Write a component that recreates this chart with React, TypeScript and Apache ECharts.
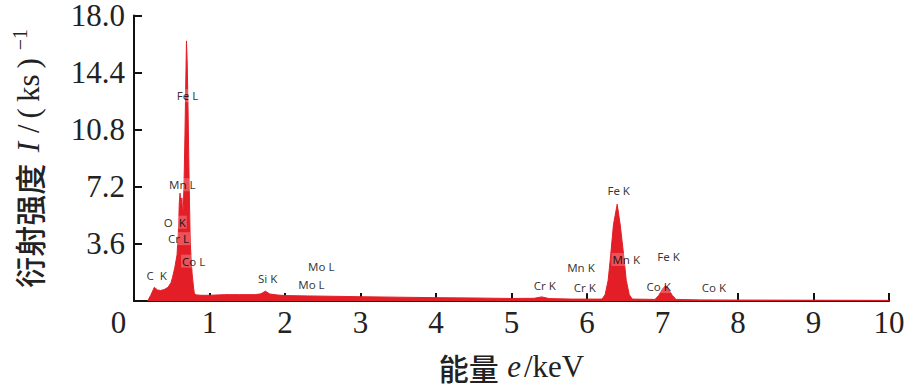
import React, { useEffect, useRef } from "react";
import * as echarts from "echarts";

// X-ray energy (keV) and intensity (counts per ks) of the spectrum
const energyKeV = [
  0.18, 0.22, 0.27, 0.31, 0.35, 0.4, 0.45, 0.49, 0.51, 0.54, 0.57, 0.59, 0.6, 0.61, 0.62, 0.625, 0.635, 0.645,
  0.655, 0.665, 0.675, 0.685, 0.695, 0.705, 0.715, 0.725, 0.735, 0.745, 0.76, 0.77, 0.79, 0.8, 0.83, 0.9, 1.0,
  1.2, 1.4, 1.6, 1.68, 1.74, 1.8, 1.9, 2.0, 2.3, 2.6, 3.0, 3.5, 4.0, 4.5, 5.0, 5.3, 5.4, 5.5, 5.8, 6.1, 6.2,
  6.24, 6.28, 6.31, 6.35, 6.4, 6.44, 6.49, 6.52, 6.56, 6.6, 6.9, 6.95, 7.0, 7.04, 7.08, 7.13, 7.18, 7.5, 8.0,
  9.0, 10.0,
];
const intensity = [
  0, 0.35, 0.86, 0.7, 0.66, 0.72, 0.86, 1.15, 1.48, 2.1, 2.9, 4.6, 6.2, 6.8, 6.1, 6.2, 6.5, 5.4,
  6.0, 8.0, 10.5, 13.5, 16.4, 15.0, 12.4, 9.1, 6.2, 3.7, 2.4, 1.7, 0.8, 0.45, 0.38, 0.36, 0.36,
  0.4, 0.4, 0.4, 0.45, 0.62, 0.44, 0.38, 0.34, 0.32, 0.3, 0.27, 0.24, 0.21, 0.19, 0.16, 0.17, 0.26, 0.15, 0.12, 0.12, 0.12,
  0.4, 1.3, 2.7, 4.8, 6.1, 4.8, 2.7, 1.3, 0.4, 0.12, 0.1, 0.35, 0.75, 0.97, 0.75, 0.35, 0.1, 0.07, 0.06,
  0.05, 0.04,
];

// Peak annotations: text, energy (keV), intensity position
const peakLabels = ["Fe L", "Mn L", "O  K", "Cr L", "Co L", "C  K", "Si K", "Mo L", "Mo L", "Cr K", "Mn K", "Cr K", "Fe K", "Mn K", "Fe K", "Co K", "Co K"];
const peakLabelKeV = [0.71, 0.64, 0.54, 0.59, 0.79, 0.3, 1.77, 2.48, 2.35, 5.44, 5.92, 5.97, 6.42, 6.52, 7.08, 6.95, 7.68];
const peakLabelY = [12.94, 7.33, 4.97, 3.93, 2.51, 1.59, 1.4, 2.19, 1.03, 0.97, 2.1, 0.86, 6.94, 2.62, 2.82, 0.91, 0.83];

const xTickLabels = ["0", "1", "2", "3", "4", "5", "6", "7", "8", "9", "10"];
const yTickLabels = ["", "3.6", "7.2", "10.8", "14.4", "18.0"];

const SERIF = "'Liberation Serif', 'DejaVu Serif', serif";
const CJK = "'Noto Sans CJK SC', sans-serif";

export default function App() {
  const ref = useRef<HTMLDivElement>(null);
  useEffect(() => {
    if (!ref.current) return;
    const chart = echarts.init(ref.current, undefined, { renderer: "svg" });
    const spectrum = energyKeV.map((e, i) => [e, intensity[i]]);
    const labels = peakLabels.map((t, i) => ({ name: t, value: [peakLabelKeV[i], peakLabelY[i]] }));
    chart.setOption({
      animation: false,
      backgroundColor: "#fff",
      grid: { left: 134, right: 21, top: 9, bottom: 89 },
      xAxis: {
        type: "value",
        min: 0,
        max: 10,
        interval: 1,
        name: "{cn|能量} {it|e}{n|/keV}",
        nameLocation: "middle",
        nameGap: 50,
        nameTextStyle: {
          rich: {
            cn: { fontFamily: CJK, fontSize: 30, fontWeight: 500, color: "#222" },
            it: { fontFamily: SERIF, fontSize: 31, fontStyle: "italic", color: "#222", padding: [0, 3, 0, 5] },
            n: { fontFamily: SERIF, fontSize: 31, color: "#222" },
          },
        },
        axisLine: { lineStyle: { color: "#111", width: 2 } },
        axisTick: { inside: true, length: 8, lineStyle: { color: "#111", width: 2 } },
        splitLine: { show: false },
        axisLabel: {
          fontFamily: SERIF,
          fontSize: 31,
          color: "#222",
          margin: 6,
          formatter: (v: number) => {
            const t = xTickLabels[Math.round(v)];
            return Math.round(v) === 0 ? "{z|" + t + "}" : t;
          },
          rich: { z: { fontFamily: SERIF, fontSize: 31, color: "#222", padding: [0, 31, 0, 0] } },
        },
      },
      yAxis: {
        type: "value",
        min: 0,
        max: 18,
        interval: 3.6,
        name: "{cn|衍射强度} {it|I}{n|/}{p|(}{n|ks}{p|)}{sup|−1}",
        nameLocation: "middle",
        nameGap: 88,
        nameTextStyle: {
          rich: {
            cn: { fontFamily: CJK, fontSize: 31, fontWeight: 500, color: "#222", lineHeight: 36 },
            it: { fontFamily: SERIF, fontSize: 31, fontStyle: "italic", color: "#222", padding: [0, 6, 0, 8] },
            n: { fontFamily: SERIF, fontSize: 31, color: "#222", padding: [0, 3, 0, 3] },
            p: { fontFamily: SERIF, fontSize: 31, color: "#222", padding: [0, 3, 0, 3] },
            sup: { fontFamily: SERIF, fontSize: 20, color: "#222", verticalAlign: "top", lineHeight: 20, padding: [0, 0, 0, 5] },
          },
        },
        axisLine: { show: true, lineStyle: { color: "#111", width: 2 } },
        axisTick: { show: true, inside: true, length: 8, lineStyle: { color: "#111", width: 2 } },
        splitLine: { show: false },
        axisLabel: {
          fontFamily: SERIF,
          fontSize: 31,
          lineHeight: 18,
          color: "#222",
          margin: 9,
          formatter: (_v: number, i: number) => yTickLabels[i] ?? "",
        },
      },
      series: [
        {
          type: "line",
          data: spectrum,
          symbol: "none",
          lineStyle: { color: "#E41E26", width: 1 },
          areaStyle: { color: "#E41E26", opacity: 1 },
          z: 2,
        },
        {
          type: "scatter",
          data: labels,
          symbolSize: 1,
          itemStyle: { color: "rgba(0,0,0,0)" },
          z: 5,
          label: {
            show: true,
            position: "inside",
            formatter: "{b}",
            fontFamily: "'Noto Sans', 'Open Sans', sans-serif",
            fontSize: 11.5,
            color: "#000",
            backgroundColor: "rgba(255,255,255,0.3)",
            padding: [1, 1, 0, 1],
          },
        },
      ],
    });
    return () => chart.dispose();
  }, []);
  return <div ref={ref} style={{ position: "absolute", left: 0, top: 0, width: 910, height: 390 }} />;
}
